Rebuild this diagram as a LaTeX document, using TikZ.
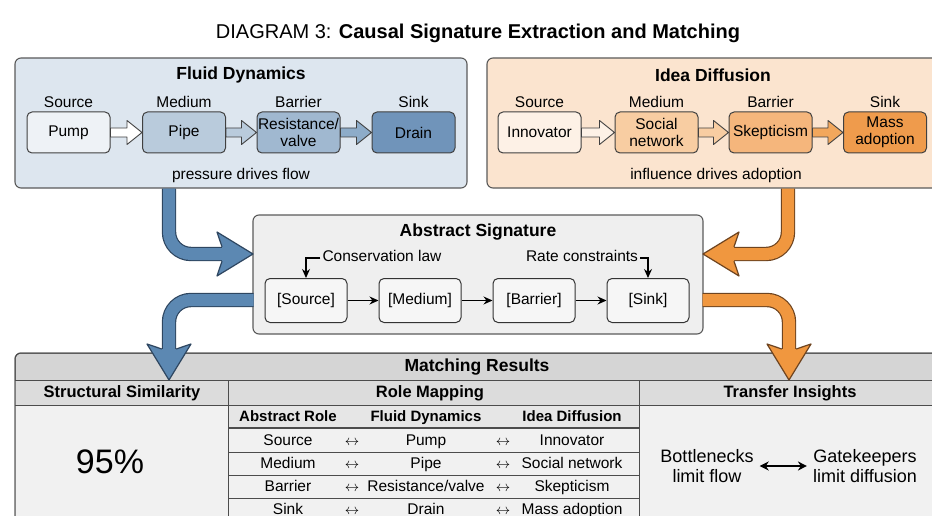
\documentclass[tikz,border=0pt]{standalone}
\usepackage{fontspec}
\setmainfont{Liberation Sans}
\usepackage{tikz}
\usetikzlibrary{arrows.meta,positioning,calc}
\definecolor{fluidbg}{HTML}{DDE6EF}
\definecolor{ideabg}{HTML}{FBE4CF}
\definecolor{pumpfill}{HTML}{EEF2F6}
\definecolor{pipefill}{HTML}{B9CBDC}
\definecolor{valvefill}{HTML}{A0B8D0}
\definecolor{drainfill}{HTML}{7094BA}
\definecolor{innofill}{HTML}{FDF1E6}
\definecolor{socfill}{HTML}{F8CDA2}
\definecolor{skepfill}{HTML}{F5B67C}
\definecolor{massfill}{HTML}{EF9B4C}
\definecolor{steel}{HTML}{5C88B2}
\definecolor{steeldk}{HTML}{2E4660}
\definecolor{amber}{HTML}{F0973F}
\definecolor{amberdk}{HTML}{6E4420}
\definecolor{framegray}{HTML}{5A5A5A}
\definecolor{absfill}{HTML}{EFEFEF}
\definecolor{hdrgray}{HTML}{D5D5D5}
\definecolor{subgray}{HTML}{DCDCDC}
\definecolor{rowgray}{HTML}{E6E6E6}
\definecolor{bodygray}{HTML}{F1F1F1}

% fat arrow head: tip, rotation, fill, outline
\newcommand{\fathead}[4]{\filldraw[shift={#1},rotate=#2,fill=#3,draw=#4,
    line width=1.2pt,line join=round]
    (-31,-7.2) -- (-36,-22) -- (0,0) -- (-36,22) -- (-31,7.2);}

\begin{document}
\begin{tikzpicture}[x=1pt,y=-1pt,
        every node/.style={font=\fontsize{15.5}{16.5}\selectfont,inner sep=2pt},
        ttl/.style={font=\fontsize{17.5}{20}\selectfont\bfseries},
        hdr/.style={font=\fontsize{16.5}{18}\selectfont\bfseries},
        colhdr/.style={font=\fontsize{15}{17}\selectfont\bfseries,cell},
        cell/.style={text height=11pt,text depth=3.5pt},
        panel/.style={draw=framegray,line width=1.1pt,rounded corners=6pt,inner sep=0pt},
        rolebox/.style={draw=black!75,line width=1pt,rounded corners=5pt,
                        minimum width=83pt,minimum height=41pt,align=center,inner sep=0pt},
        sigbox/.style={draw=black!80,fill=gray!7,line width=1pt,rounded corners=5pt,
                       minimum width=82pt,minimum height=44pt,cell},
        sigarr/.style={line width=1.2pt,-{Stealth[length=9pt,width=8pt]}},
        blockarr/.style={draw=black!75,line width=0.9pt,line join=round,
          to path={($(\tikztostart)+(0,-4.5)$) -- ($(\tikztotarget)+(-15,-4.5)$)
            -- ($(\tikztotarget)+(-15,-12)$) -- (\tikztotarget)
            -- ($(\tikztotarget)+(-15,12)$) -- ($(\tikztotarget)+(-15,4.5)$)
            -- ($(\tikztostart)+(0,4.5)$) -- cycle}},
        fat/.style={line width=1.2pt,double distance=12pt,rounded corners=22pt},
        tabline/.style={draw=black!70,line width=1pt}]
      \useasboundingbox (0,0) rectangle (932,516);
      \node (title) at (478,33)
        {\fontsize{20}{22}\selectfont DIAGRAM 3: \textbf{Causal Signature Extraction and Matching}};

      % fluid dynamics
      \node[panel,fill=fluidbg,minimum width=452pt,minimum height=130pt] (fluid) at (241,123) {};
      \node[ttl] (fluidttl) at (241,75) {Fluid Dynamics};
      \node[rolebox,fill=pumpfill] (pump) at (68.5,132.5) {Pump};
      \node[rolebox,fill=pipefill] (pipe) at (184,132.5) {Pipe};
      \node[rolebox,fill=valvefill] (valve) at (298.5,132.5) {Resistance/\\valve};
      \node[rolebox,fill=drainfill] (drain) at (413.5,132.5) {Drain};
      \foreach \b/\t in {pump/Source,pipe/Medium,valve/Barrier,drain/Sink}
        \node[above=2pt of \b] (\b-lbl) {\t};
      \draw[blockarr,fill=white] (pump.east) to (pipe.west);
      \draw[blockarr,fill=pipefill] (pipe.east) to (valve.west);
      \draw[blockarr,fill=steel!70] (valve.east) to (drain.west);
      \node (fluidlaw) at (241,175) {pressure drives flow};

      % idea diffusion
      \node[panel,fill=ideabg,minimum width=453pt,minimum height=130pt] (idea) at (713.5,123) {};
      \node[ttl] (ideattl) at (713,75) {Idea Diffusion};
      \node[rolebox,fill=innofill] (inno) at (539.5,132.5) {Innovator};
      \node[rolebox,fill=socfill] (soc) at (656.5,132.5) {Social\\network};
      \node[rolebox,fill=skepfill] (skep) at (770.5,132.5) {Skepticism};
      \node[rolebox,fill=massfill] (mass) at (885,132.5) {Mass\\adoption};
      \foreach \b/\t in {inno/Source,soc/Medium,skep/Barrier,mass/Sink}
        \node[above=2pt of \b] (\b-lbl) {\t};
      \draw[blockarr,fill=innofill] (inno.east) to (soc.west);
      \draw[blockarr,fill=socfill] (soc.east) to (skep.west);
      \draw[blockarr,fill=amber!85] (skep.east) to (mass.west);
      \node (idealaw) at (716,175) {influence drives adoption};

      % abstract signature
      \node[panel,fill=absfill,minimum width=450pt,minimum height=119pt] (abs) at (478,274.5) {};
      \node[ttl] (absttl) at (478,232) {Abstract Signature};
      \node[sigbox] (s1) at (306,300.5) {[Source]};
      \node[sigbox] (s2) at (420,300.5) {[Medium]};
      \node[sigbox] (s3) at (534,300.5) {[Barrier]};
      \node[sigbox] (s4) at (648,300.5) {[Sink]};
      \draw[sigarr] (s1) -- (s2);
      \draw[sigarr] (s2) -- (s3);
      \draw[sigarr] (s3) -- (s4);
      \node[cell] (cons) at (382,258) {Conservation law};
      \node[cell] (rate) at (582,258) {Rate constraints};
      \draw[sigarr] (cons.west) -| (s1.north);
      \draw[sigarr] (rate.east) -| (s4.north);

      % matching results
      \filldraw[fill=hdrgray,draw=black!70,line width=1pt,rounded corners=6pt] (15,540) rectangle (945,353);
      \fill[subgray] (15,380) rectangle (945,405);
      \fill[bodygray] (15,405) rectangle (945,540);
      \fill[rowgray] (228,405) rectangle (639,428);
      \draw[tabline] (15,380) -- (945,380) (15,405) -- (945,405)
                     (228,380) -- (228,540) (639,380) -- (639,540);
      \draw[tabline,line width=1.5pt] (228,428) -- (639,428);
      \foreach \y in {452,475,498}
        \draw[tabline] (228,\y) -- (639,\y);
      \draw[black!70,line width=1pt,rounded corners=6pt] (15,540) rectangle (945,353);
      \node[ttl,cell] (mres) at (477,367.5) {Matching Results};
      \node[hdr,cell] (simhdr) at (122,393.5) {Structural Similarity};
      \node[hdr,cell] (maphdr) at (430,393.5) {Role Mapping};
      \node[hdr,cell] (trhdr) at (790,393.5) {Transfer Insights};
      \node[colhdr] (abscol) at (288,417.5) {Abstract Role};
      \node[colhdr] (flcol) at (426,417.5) {Fluid Dynamics};
      \node[colhdr] (idcol) at (572,417.5) {Idea Diffusion};
      \foreach \r/\f/\d [count=\k] in {Source/Pump/Innovator,Medium/Pipe/Social network,
          Barrier/{Resistance/valve}/Skepticism,Sink/Drain/Mass adoption}{
        \node[cell] (ab\k) at (288,{418.5+23*\k}) {\r};
        \node[cell] (la\k) at (352,{418.5+23*\k}) {$\leftrightarrow$};
        \node[cell] (fl\k) at (426,{418.5+23*\k}) {\f};
        \node[cell] (lb\k) at (503,{418.5+23*\k}) {$\leftrightarrow$};
        \node[cell] (id\k) at (572,{418.5+23*\k}) {\d};
      }
      \node (pct) at (110,462) {\fontsize{34}{36}\selectfont 95\%};
      \node[align=center,font=\fontsize{18}{20}\selectfont] (bott) at (707,466) {Bottlenecks\\limit flow};
      \node[align=center,font=\fontsize{18}{20}\selectfont] (gate) at (865,466) {Gatekeepers\\limit diffusion};
      \draw[line width=1.6pt,shorten <=4pt,shorten >=4pt,
            {Stealth[length=9pt,width=9pt]}-{Stealth[length=9pt,width=9pt]}] (bott) -- (gate);

      % fat arrows
      \coordinate (fout) at (169,188.5);
      \coordinate (iout) at (788,188.5);
      \coordinate (aleft) at (253.5,300);
      \coordinate (aright) at (702.5,300);
      \draw[fat,draw=steeldk,double=steel] (fout) |- (226,254);
      \fathead{(253,254)}{0}{steel}{steeldk}
      \draw[fat,draw=amberdk,double=amber] (iout) |- (730,254);
      \fathead{(703,254)}{180}{amber}{amberdk}
      \draw[fat,draw=steeldk,double=steel] (aleft) -| (169,353);
      \fathead{(169,380)}{-90}{steel}{steeldk}
      \draw[fat,draw=amberdk,double=amber] (aright) -| (789,353);
      \fathead{(789,380)}{-90}{amber}{amberdk}
    \end{tikzpicture}
\end{document}
